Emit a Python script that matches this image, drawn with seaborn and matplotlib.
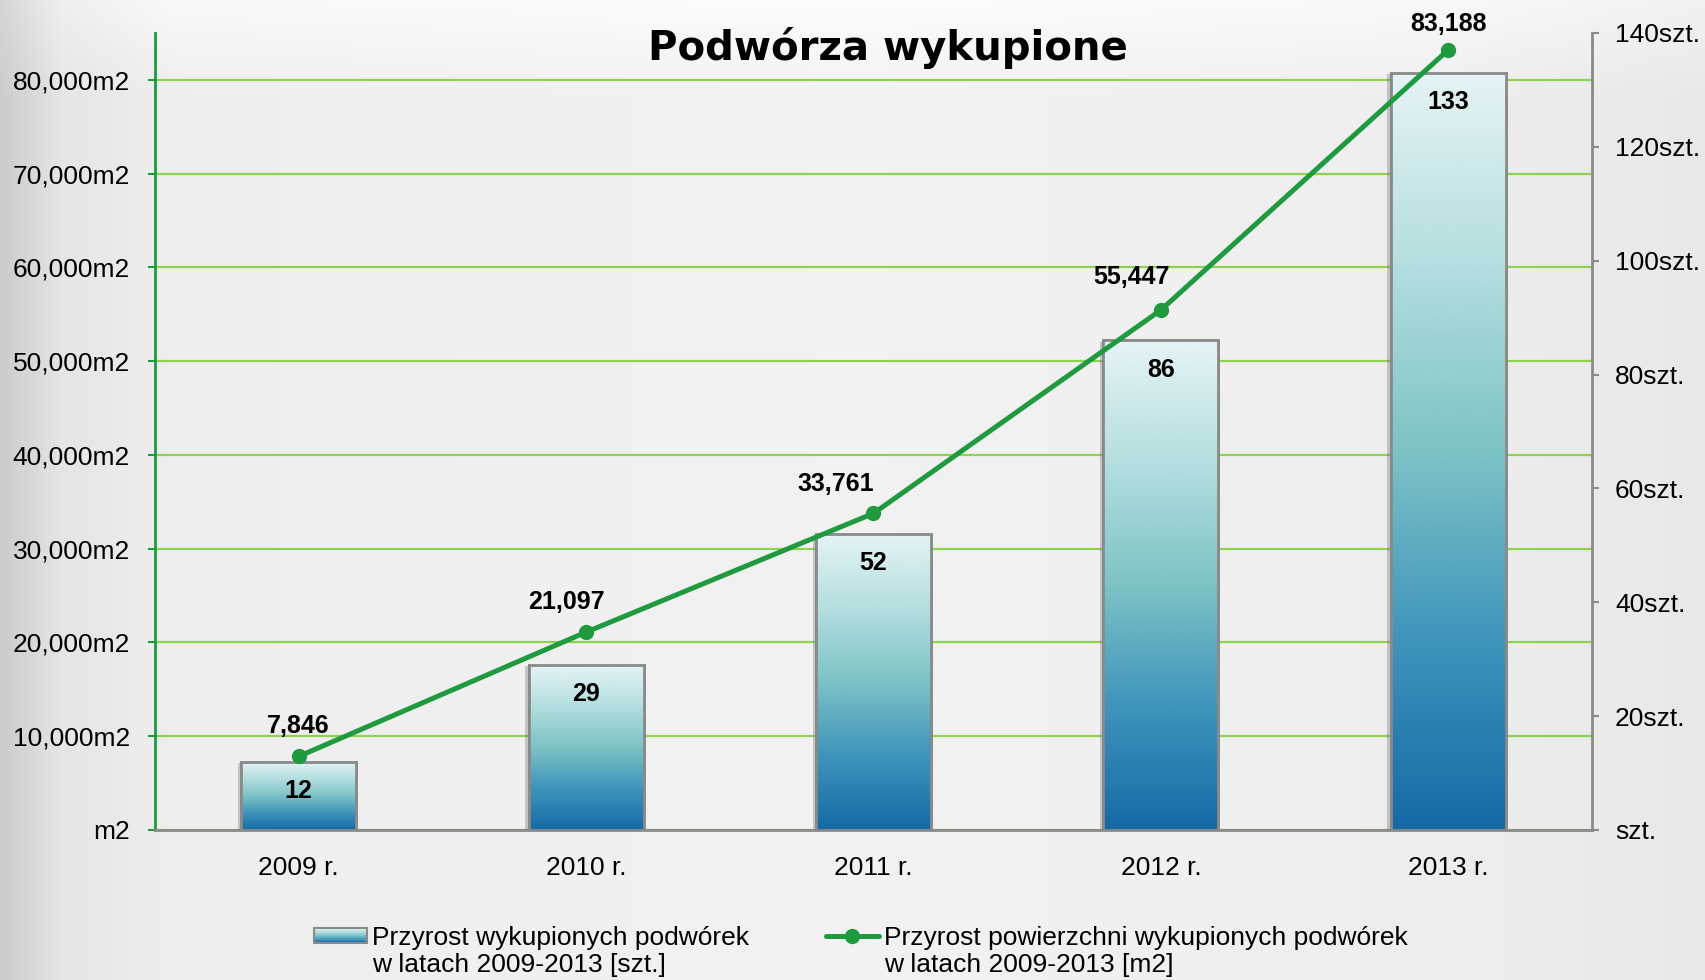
import numpy as np
import matplotlib
matplotlib.use('Agg')
import matplotlib.pyplot as plt
import seaborn as sns
import matplotlib.patheffects as pe
from matplotlib.colors import LinearSegmentedColormap
from matplotlib.patches import Rectangle, Patch
from matplotlib.lines import Line2D
from matplotlib.image import BboxImage
from matplotlib.transforms import Bbox, TransformedBbox
from matplotlib.ticker import FixedLocator, FixedFormatter, MultipleLocator, FuncFormatter

# ── dane ──
years = ['2009 r.', '2010 r.', '2011 r.', '2012 r.', '2013 r.']
yards_count = [12, 29, 52, 86, 133]                 # szt.
yards_area = [7846, 21097, 33761, 55447, 83188]     # m2
bar_label = 'Przyrost wykupionych podwórek\nw latach 2009-2013 [szt.]'
line_label = 'Przyrost powierzchni wykupionych podwórek\nw latach 2009-2013 [m2]'
title = 'Podwórza wykupione'

# przesunięcia etykiet linii (pt)
area_label_offsets = [(0, 22), (-14, 22), (-27, 21), (-21, 24), (0, 19)]

# ── styl ──
sns.set_style('white')
plt.rcParams['font.family'] = ['Liberation Sans', 'DejaVu Sans']
plt.rcParams['text.color'] = 'black'
plt.rcParams['xtick.labelcolor'] = 'black'
plt.rcParams['ytick.labelcolor'] = 'black'

GREEN = '#1f9a3f'
GRID = '#8fd24f'
GREY = '#8a8a8a'
bar_cmap = LinearSegmentedColormap.from_list(
    'bar', ['#156aa6', '#3f94bc', '#7dc3c6', '#b5dfe0', '#e6f4f6'])
grad = np.linspace(0, 1, 256).reshape(-1, 1)

fig = plt.figure(figsize=(17.05, 9.8), dpi=100)

# tło
bg = fig.add_axes([0, 0, 1, 1], zorder=-10)
xs = np.linspace(0, 1, 400)
prof = np.interp(xs, [0, 0.035, 0.1, 0.5, 0.85, 1], [0.80, 0.90, 0.935, 0.95, 0.935, 0.91])
ys = np.linspace(0, 1, 200)
vert = np.interp(ys, [0, 0.9, 1], [0, 0, 0.04])
shade = np.clip(prof[None, :] + vert[:, None], 0, 1)
bg.imshow(np.dstack([shade] * 3), aspect='auto', extent=[0, 1, 0, 1], origin='lower')
bg.axis('off')

ax = fig.add_axes([0.0909, 0.1531, 0.8428, 0.8133])
ax.patch.set_alpha(0)
ax_b = ax.twinx()
ax_l = ax.twinx()

# ── słupki (szt.) ──
sns.barplot(x=years, y=yards_count, ax=ax_b, width=0.4, color='#7dc3c6',
            edgecolor=GREY, linewidth=2, errorbar=None, zorder=2)

for bar, val in zip(list(ax_b.patches), yards_count):
    x0, w, h = bar.get_x(), bar.get_width(), bar.get_height()
    bar.set_path_effects([pe.SimplePatchShadow(offset=(-2.5, -1), shadow_rgbFace='#707070', alpha=0.35),
                          pe.Normal()])
    bb = TransformedBbox(Bbox.from_bounds(x0, 0, w, h), ax_b.transData)
    im = BboxImage(bb, cmap=bar_cmap, origin='lower', interpolation='bicubic', zorder=2.1)
    im.set_data(grad)
    im.set_clip_path(bar)
    ax_b.add_artist(im)
    ax_b.add_patch(Rectangle((x0, 0), w, h, facecolor='none', edgecolor=GREY, lw=2, zorder=2.2))
    ax_b.annotate(f'{val}', xy=(x0 + w / 2, h), xytext=(0, -21), textcoords='offset points',
                  ha='center', va='center', fontsize=18, fontweight='bold', zorder=3)

# ── linia (m2) ──
sns.lineplot(x=years, y=yards_area, ax=ax_l, color=GREEN, linewidth=3.6, marker='o',
             markersize=11, markeredgewidth=0, sort=False, zorder=4)
line = ax_l.lines[0]
for xv, yv, off in zip(line.get_xdata(), line.get_ydata(), area_label_offsets):
    ax_l.annotate(f'{yv:,.0f}', xy=(xv, yv), xytext=off, textcoords='offset points',
                  ha='center', va='center', fontsize=18, fontweight='bold')

# ── osie ──
ax.set_ylim(0, 85000)
ax.yaxis.set_major_locator(MultipleLocator(10000))
ax.yaxis.set_major_formatter(FuncFormatter(lambda v, p: f'{v:,.0f}m2' if v else 'm2'))
ax.tick_params(axis='y', which='major', direction='out', length=5, width=1.5,
               color=GREEN, labelsize=19, pad=13, labelcolor='black')
ax.grid(axis='y', color=GRID, lw=1.6)
ax.grid(axis='x', visible=False)
ax.set_axisbelow(True)
for side in ['top', 'right']:
    ax.spines[side].set_visible(False)
ax.spines['left'].set_color(GREEN)
ax.spines['left'].set_linewidth(2)
ax.spines['bottom'].set_color(GREY)
ax.spines['bottom'].set_linewidth(2)

ax_b.set_ylim(0, 140)
ax_b.yaxis.set_major_locator(MultipleLocator(20))
ax_b.yaxis.set_major_formatter(FuncFormatter(lambda v, p: f'{v:.0f}szt.' if v else 'szt.'))
ax_b.tick_params(axis='y', right=True, left=False, labelright=True, labelleft=False,
                 direction='out', length=5, width=1.5, color=GREY, labelsize=19, pad=11.5,
                 labelcolor='black')
ax_b.grid(False)
for side in ['top', 'left', 'bottom']:
    ax_b.spines[side].set_visible(False)
ax_b.spines['right'].set_color(GREY)
ax_b.spines['right'].set_linewidth(2)

ax_l.set_ylim(0, 85000)
ax_l.axis('off')

n = len(years)
ax.xaxis.set_major_locator(FixedLocator(np.arange(n)))
ax.xaxis.set_major_formatter(FixedFormatter(years))
ax.xaxis.set_minor_locator(FixedLocator(np.arange(n + 1) - 0.5))
ax.tick_params(axis='x', which='major', length=0, labelsize=19, pad=19, labelcolor='black')
ax.tick_params(axis='x', which='minor', direction='out', length=6, width=1.5, color=GREY)
ax.set_xlim(-0.5, n - 0.5)
ax.set_xlabel('')
ax.set_ylabel('')

fig.text(0.521, 0.939, title, ha='center', va='baseline', fontsize=29,
         fontweight='bold', family='DejaVu Sans', color='black')


# ── legenda ──
class GradientPatch(Patch):
    pass


class GradientHandler:
    def legend_artist(self, legend, orig_handle, fontsize, handlebox):
        x0, y0 = -handlebox.xdescent, -handlebox.ydescent
        w, h = handlebox.width, handlebox.height
        steps = 24
        for i in range(steps):
            handlebox.add_artist(Rectangle((x0, y0 + h * i / steps), w, h / steps + 0.4,
                                           facecolor=bar_cmap(i / (steps - 1)), edgecolor='none',
                                           transform=handlebox.get_transform()))
        edge = Rectangle((x0, y0), w, h, facecolor='none', edgecolor=GREY, lw=1.5,
                         transform=handlebox.get_transform())
        handlebox.add_artist(edge)
        return edge


blank = Patch(facecolor='none', edgecolor='none')
bar_lines = bar_label.split('\n')
line_lines = line_label.split('\n')
handles = [GradientPatch(), blank,
           Line2D([], [], color=GREEN, lw=3.6, marker='o', markersize=11, markeredgewidth=0), blank]
labels = [bar_lines[0], bar_lines[1], line_lines[0], line_lines[1]]
fig.legend(handles, labels, ncol=2, loc='center', bbox_to_anchor=(0.505, 0.029),
           frameon=False, prop={'family': 'Liberation Sans', 'size': 19},
           handlelength=2.0, handleheight=0.53, handletextpad=0.2, columnspacing=2.9,
           labelspacing=0.12, borderpad=0,
           handler_map={GradientPatch: GradientHandler()})

fig.savefig('out.png', dpi=100)
